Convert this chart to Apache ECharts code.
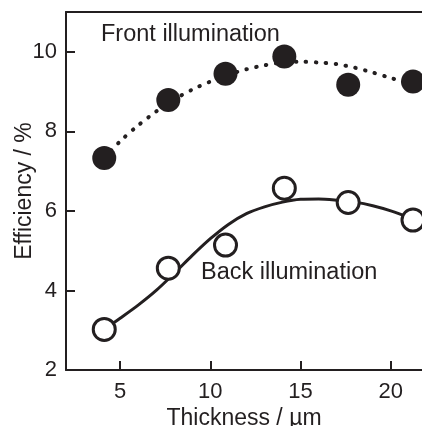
<!DOCTYPE html>
<html>
<head>
<meta charset="utf-8">
<script src="https://cdn.jsdelivr.net/npm/echarts@6/dist/echarts.min.js"></script>
<style>html,body{margin:0;padding:0;background:#fff}#c{width:422px;height:426px}</style>
</head>
<body>
<div id="c"></div>
<script>
// Data
var thickness = [4.12, 7.67, 10.84, 14.1, 17.64, 21.23];
var frontEff = [7.33, 8.79, 9.45, 9.88, 9.17, 9.25];
var backEff = [3.02, 4.56, 5.14, 6.57, 6.21, 5.77];

// Fitted guide curves
var frontFitX = [4.12, 5, 6, 7, 8, 9, 10, 11, 12, 13, 14, 15, 16, 17, 18, 19, 20, 20.8, 21.2];
var frontFitY = [7.33, 7.75, 8.15, 8.5, 8.8, 9.05, 9.25, 9.42, 9.56, 9.66, 9.73, 9.75, 9.73, 9.69, 9.6, 9.48, 9.34, 9.23, 9.18];
var backFitX = [4.12, 5, 6, 7, 8, 9, 10, 11, 12, 13, 14, 15, 16, 17, 18, 19, 20, 21.2];
var backFitY = [3.02, 3.3, 3.63, 4.0, 4.43, 4.88, 5.3, 5.66, 5.93, 6.1, 6.22, 6.29, 6.3, 6.27, 6.22, 6.13, 6.0, 5.8];

var xTicks = [5, 10, 15, 20];
var yTicks = [2, 4, 6, 8, 10];
var xTitle = 'Thickness / \u00b5m';
var yTitle = 'Efficiency / %';
var frontLabel = 'Front illumination';
var backLabel = 'Back illumination';

function zip(a, b) { return a.map(function (v, i) { return [v, b[i]]; }); }

var ink = '#231f20';
var font = 'Liberation Sans, Arial, Helvetica, sans-serif';

var chart = echarts.init(document.getElementById('c'), null, { renderer: 'canvas' });
chart.setOption({
  animation: false,
  backgroundColor: '#fff',
  grid: { left: 66, top: 12, right: 0, bottom: 56, containLabel: false, outerBoundsMode: 'none' },
  xAxis: [{
    type: 'value', min: 2, max: 21.73,
    name: xTitle, nameLocation: 'middle', nameGap: 37, nameMoveOverlap: false,
    nameTextStyle: { color: ink, fontSize: 23, fontFamily: font },
    axisLine: { show: true, lineStyle: { color: ink, width: 2 } },
    axisTick: { show: true, inside: true, length: 9, customValues: xTicks, lineStyle: { color: ink, width: 2 } },
    axisLabel: { show: true, customValues: xTicks, color: ink, fontSize: 22, fontFamily: font, margin: 11 },
    splitLine: { show: false }
  }, {
    type: 'value', min: 2, max: 21.73, position: 'top',
    axisLine: { show: true, lineStyle: { color: ink, width: 2 } },
    axisTick: { show: false }, axisLabel: { show: false }, splitLine: { show: false }
  }],
  yAxis: {
    type: 'value', min: 2, max: 11,
    name: yTitle, nameLocation: 'middle', nameGap: 30, nameRotate: 90, nameMoveOverlap: false,
    nameTextStyle: { color: ink, fontSize: 23, fontFamily: font },
    axisLine: { show: true, lineStyle: { color: ink, width: 2 } },
    axisTick: { show: true, inside: true, length: 9, customValues: yTicks, lineStyle: { color: ink, width: 2 } },
    axisLabel: { show: true, customValues: yTicks, color: ink, fontSize: 22, fontFamily: font, margin: 9 },
    splitLine: { show: false }
  },
  graphic: [
    { type: 'text', left: 101, top: 23, style: { text: frontLabel, fill: ink, font: '23.5px ' + font } },
    { type: 'text', left: 201, top: 261, style: { text: backLabel, fill: ink, font: '23.5px ' + font } }
  ],
  series: [
    {
      type: 'line', data: zip(frontFitX, frontFitY), smooth: 0.3, showSymbol: false, z: 2,
      lineStyle: { color: ink, width: 4, type: [0.5, 9.5], cap: 'round' }
    },
    {
      type: 'line', data: zip(backFitX, backFitY), smooth: 0.3, showSymbol: false, z: 2,
      lineStyle: { color: ink, width: 3 }
    },
    {
      type: 'scatter', data: zip(thickness, frontEff), symbol: 'circle', symbolSize: 24, z: 5,
      itemStyle: { color: ink, opacity: 1 }
    },
    {
      type: 'scatter', data: zip(thickness, backEff), symbol: 'circle', symbolSize: 22, z: 5,
      itemStyle: { color: '#fff', borderColor: ink, borderWidth: 3, opacity: 1 }
    }
  ]
});
</script>
</body>
</html>
